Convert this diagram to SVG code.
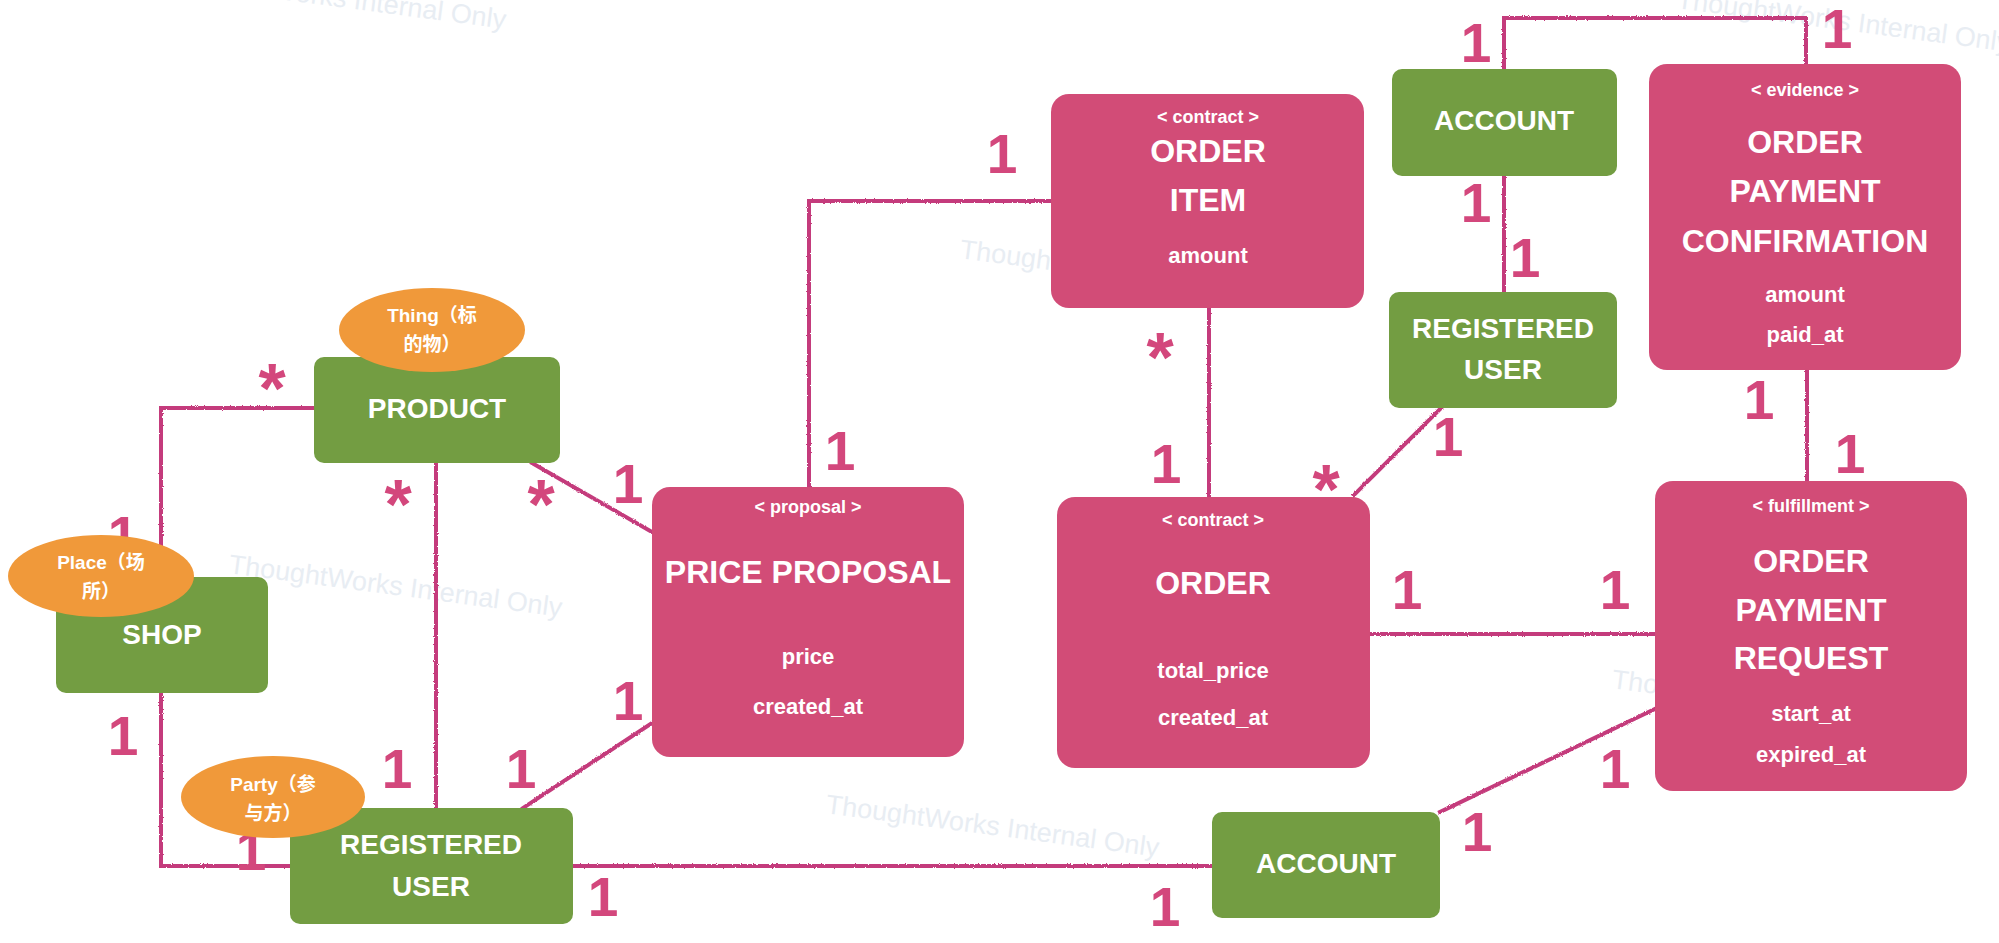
<svg xmlns="http://www.w3.org/2000/svg" width="1999" height="943" viewBox="0 0 1999 943">
<style>
.wm{font-family:"Liberation Sans",Arial,sans-serif;font-size:27px;fill:#e8edf3}
.conn{fill:none;stroke:#c43b7b;stroke-width:4;stroke-linecap:square}
.pink{fill:#d24c77}
.green{fill:#739d42}
.orange{fill:#f0993a}
.t{font-family:"Liberation Sans",Arial,sans-serif;font-weight:bold;fill:#ffffff;text-anchor:middle}
.sub{font-size:18px}
.ttl{font-size:32px}
.gt{font-size:28px}
.att{font-size:22px}
.el{font-family:"Liberation Sans","Noto Sans CJK SC",sans-serif;font-weight:bold;font-size:19px;fill:#ffffff;text-anchor:middle}
.card{font-family:"Liberation Sans",Arial,sans-serif;font-weight:bold;font-size:55px;fill:#d3477c;text-anchor:middle}
.star{font-family:"Liberation Sans",Arial,sans-serif;font-weight:bold;font-size:70px;fill:#d3477c;text-anchor:middle}
</style>
<defs>
<filter id="rough" filterUnits="userSpaceOnUse" x="0" y="0" width="1999" height="943">
<feTurbulence type="fractalNoise" baseFrequency="0.9" numOctaves="2" seed="3" result="n"/>
<feDisplacementMap in="SourceGraphic" in2="n" scale="2.5" xChannelSelector="R" yChannelSelector="G"/>
</filter>
</defs>
<rect width="1999" height="943" fill="#ffffff"/>
<g id="watermarks">
<text class="wm" x="172" y="-15" transform="rotate(7.5 172 -15)">ThoughtWorks Internal Only</text>
<text class="wm" x="1676" y="8" transform="rotate(7.5 1676 8)">ThoughtWorks Internal Only</text>
<text class="wm" x="959" y="258" transform="rotate(7.5 959 258)">ThoughtWorks Internal Only</text>
<text class="wm" x="228" y="573" transform="rotate(7.5 228 573)">ThoughtWorks Internal Only</text>
<text class="wm" x="825" y="813" transform="rotate(7.5 825 813)">ThoughtWorks Internal Only</text>
<text class="wm" x="1611" y="688" transform="rotate(7.5 1611 688)">ThoughtWorks Internal Only</text>
</g>
<g id="connectors" filter="url(#rough)">
<path class="conn" d="M314,408 H161 V577"/>
<path class="conn" d="M161,693 V866 H290"/>
<path class="conn" d="M436,463 V808"/>
<path class="conn" d="M532,463 L652,532"/>
<path class="conn" d="M652,723 L523,808"/>
<path class="conn" d="M809,487 V201 H1051"/>
<path class="conn" d="M1209,308 V497"/>
<path class="conn" d="M1441,408 L1354,495"/>
<path class="conn" d="M1504,69 V18 H1806 V64"/>
<path class="conn" d="M1504,176 V292"/>
<path class="conn" d="M1807,370 V481"/>
<path class="conn" d="M1370,634 H1655"/>
<path class="conn" d="M1655,709 L1440,812"/>
<path class="conn" d="M573,866 H1212"/>
</g>
<g id="cardinalities">
<text class="card" x="123" y="555">1</text>
<text class="card" x="123" y="755">1</text>
<text class="card" x="397" y="788">1</text>
<text class="card" x="521" y="788">1</text>
<text class="card" x="251" y="870">1</text>
<text class="card" x="603" y="916">1</text>
<text class="card" x="628" y="503">1</text>
<text class="card" x="628" y="720">1</text>
<text class="card" x="840" y="470">1</text>
<text class="card" x="1002" y="173">1</text>
<text class="card" x="1166" y="483">1</text>
<text class="card" x="1448" y="456">1</text>
<text class="card" x="1476" y="62">1</text>
<text class="card" x="1837" y="48">1</text>
<text class="card" x="1476" y="222">1</text>
<text class="card" x="1525" y="277">1</text>
<text class="card" x="1759" y="419">1</text>
<text class="card" x="1850" y="473">1</text>
<text class="card" x="1407" y="609">1</text>
<text class="card" x="1615" y="609">1</text>
<text class="card" x="1615" y="788">1</text>
<text class="card" x="1477" y="851">1</text>
<text class="card" x="1165" y="926">1</text>
<text class="star" x="272" y="413">*</text>
<text class="star" x="398" y="529">*</text>
<text class="star" x="541" y="529">*</text>
<text class="star" x="1160" y="382">*</text>
<text class="star" x="1326" y="514">*</text>
</g>
<g id="product">
<rect class="green" x="314" y="357" width="246" height="106" rx="10"/>
<text class="t gt" x="437" y="418">PRODUCT</text>
</g>
<g id="shop">
<rect class="green" x="56" y="577" width="212" height="116" rx="10"/>
<text class="t gt" x="162" y="644">SHOP</text>
</g>
<g id="registered-user-left">
<rect class="green" x="290" y="808" width="283" height="116" rx="10"/>
<text class="t gt" x="431" y="854">REGISTERED</text>
<text class="t gt" x="431" y="896">USER</text>
</g>
<g id="price-proposal">
<rect class="pink" x="652" y="487" width="312" height="270" rx="18"/>
<text class="t sub" x="808" y="513">&lt; proposal &gt;</text>
<text class="t ttl" x="808" y="583">PRICE PROPOSAL</text>
<text class="t att" x="808" y="664">price</text>
<text class="t att" x="808" y="714">created_at</text>
</g>
<g id="order-item">
<rect class="pink" x="1051" y="94" width="313" height="214" rx="18"/>
<text class="t sub" x="1208" y="123">&lt; contract &gt;</text>
<text class="t ttl" x="1208" y="162">ORDER</text>
<text class="t ttl" x="1208" y="211">ITEM</text>
<text class="t att" x="1208" y="263">amount</text>
</g>
<g id="order">
<rect class="pink" x="1057" y="497" width="313" height="271" rx="18"/>
<text class="t sub" x="1213" y="526">&lt; contract &gt;</text>
<text class="t ttl" x="1213" y="594">ORDER</text>
<text class="t att" x="1213" y="678">total_price</text>
<text class="t att" x="1213" y="725">created_at</text>
</g>
<g id="account-top">
<rect class="green" x="1392" y="69" width="225" height="107" rx="10"/>
<text class="t gt" x="1504" y="130">ACCOUNT</text>
</g>
<g id="registered-user-right">
<rect class="green" x="1389" y="292" width="228" height="116" rx="10"/>
<text class="t gt" x="1503" y="338">REGISTERED</text>
<text class="t gt" x="1503" y="379">USER</text>
</g>
<g id="order-payment-confirmation">
<rect class="pink" x="1649" y="64" width="312" height="306" rx="18"/>
<text class="t sub" x="1805" y="96">&lt; evidence &gt;</text>
<text class="t ttl" x="1805" y="153">ORDER</text>
<text class="t ttl" x="1805" y="202">PAYMENT</text>
<text class="t ttl" x="1805" y="252">CONFIRMATION</text>
<text class="t att" x="1805" y="302">amount</text>
<text class="t att" x="1805" y="342">paid_at</text>
</g>
<g id="order-payment-request">
<rect class="pink" x="1655" y="481" width="312" height="310" rx="18"/>
<text class="t sub" x="1811" y="512">&lt; fulfillment &gt;</text>
<text class="t ttl" x="1811" y="572">ORDER</text>
<text class="t ttl" x="1811" y="621">PAYMENT</text>
<text class="t ttl" x="1811" y="669">REQUEST</text>
<text class="t att" x="1811" y="721">start_at</text>
<text class="t att" x="1811" y="762">expired_at</text>
</g>
<g id="account-bottom">
<rect class="green" x="1212" y="812" width="228" height="106" rx="10"/>
<text class="t gt" x="1326" y="873">ACCOUNT</text>
</g>
<g id="tag-thing">
<ellipse class="orange" cx="432" cy="330" rx="93" ry="42"/>
<text class="el" x="432" y="322">Thing（标</text>
<text class="el" x="432" y="351">的物）</text>
</g>
<g id="tag-place">
<ellipse class="orange" cx="101" cy="576" rx="93" ry="41"/>
<text class="el" x="101" y="569">Place（场</text>
<text class="el" x="101" y="598">所）</text>
</g>
<g id="tag-party">
<ellipse class="orange" cx="273" cy="797" rx="92" ry="41"/>
<text class="el" x="273" y="791">Party（参</text>
<text class="el" x="273" y="820">与方）</text>
</g>
</svg>
